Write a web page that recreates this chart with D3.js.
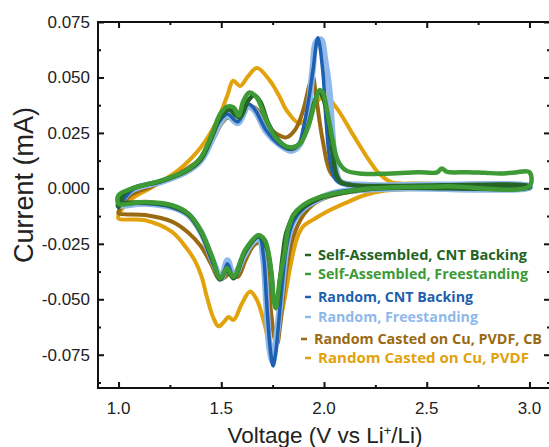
<!DOCTYPE html>
<html lang="en">
<head>
    <meta charset="utf-8">
    <title>Cyclic voltammetry</title>
    <script src="https://cdn.jsdelivr.net/npm/d3@7" charset="utf-8"></script>
    <style>
        body { margin: 0; background: #fff; }
        svg { display: block; }
        .tick-label { font-family: "Liberation Sans", Arial, sans-serif; font-size: 17px; fill: #222; }
        .axis-title { font-family: "Liberation Sans", Arial, sans-serif; fill: #222; }
        .legend text { font-family: "Open Sans", sans-serif; font-weight: 700; }
    </style>
</head>

<body>

<div id="chart"></div>

<script type="text/javascript">
// [voltage, current]: anodic sweep 1.0 -> 3.0, then cathodic 3.0 -> 1.0
var castPvdf = [
    [1.00,-0.0120],[1.06,-0.0050],[1.16,0.0004],[1.29,0.0081],[1.40,0.0184],[1.48,0.0305],[1.53,0.0420],
    [1.558,0.0485],[1.592,0.0462],[1.63,0.0505],[1.674,0.0543],[1.737,0.0485],[1.78,0.0420],[1.819,0.0350],
    [1.882,0.0292],[1.930,0.0337],[1.970,0.0395],[2.002,0.0417],[2.060,0.0364],[2.138,0.0247],[2.220,0.0126],
    [2.268,0.0067],[2.331,0.0027],[2.461,0.0022],[2.70,0.0017],[3.00,0.0013],
    [3.00,0.0004],[2.60,0.0000],[2.30,-0.0010],[2.20,-0.0030],[2.10,-0.0068],[2.00,-0.0112],[1.95,-0.0140],
    [1.90,-0.0170],[1.875,-0.0210],[1.857,-0.0263],[1.833,-0.0368],[1.81,-0.0488],[1.785,-0.0610],[1.761,-0.0705],
    [1.743,-0.0735],[1.713,-0.0620],[1.672,-0.0500],[1.640,-0.0465],[1.60,-0.0520],[1.56,-0.0593],[1.535,-0.0580],
    [1.515,-0.0600],[1.487,-0.0622],[1.46,-0.0580],[1.43,-0.0490],[1.405,-0.0400],[1.374,-0.0330],[1.326,-0.0263],
    [1.26,-0.0196],[1.13,-0.0144],[1.00,-0.0136]
];

var castPvdfCb = [
    [1.00,-0.0105],[1.06,-0.0030],[1.16,0.0008],[1.29,0.0065],[1.40,0.0135],[1.46,0.0220],[1.50,0.0290],
    [1.535,0.0320],[1.58,0.0300],[1.63,0.0370],[1.67,0.0360],[1.72,0.0290],[1.77,0.0245],[1.817,0.0230],
    [1.86,0.0265],[1.898,0.0350],[1.93,0.0470],[1.945,0.0505],[1.962,0.0410],[1.994,0.0215],[2.035,0.0066],
    [2.10,0.0025],[2.30,0.0015],[3.00,0.0012],
    [3.00,0.0004],[2.40,-0.0002],[2.20,-0.0010],[2.10,-0.0020],[2.00,-0.0045],[1.95,-0.0070],[1.90,-0.0120],
    [1.85,-0.0220],[1.82,-0.0350],[1.80,-0.0500],[1.785,-0.0630],[1.772,-0.0700],[1.76,-0.0680],[1.745,-0.0580],
    [1.73,-0.0450],[1.71,-0.0300],[1.69,-0.0245],[1.66,-0.0255],[1.62,-0.0320],[1.58,-0.0400],[1.55,-0.0370],
    [1.52,-0.0400],[1.49,-0.0410],[1.45,-0.0340],[1.40,-0.0260],[1.34,-0.0200],[1.26,-0.0150],[1.13,-0.0120],
    [1.00,-0.0113]
];

var randomFree = [
    [1.00,-0.0075],[1.07,-0.0005],[1.21,0.0030],[1.33,0.0075],[1.40,0.0125],[1.45,0.0210],[1.49,0.0290],
    [1.53,0.0330],[1.58,0.0295],[1.63,0.0370],[1.66,0.0355],[1.72,0.0255],[1.78,0.0200],[1.84,0.0170],
    [1.88,0.0195],[1.92,0.0330],[1.945,0.0540],[1.962,0.0660],[1.985,0.0670],[2.005,0.0580],[2.025,0.0450],
    [2.04,0.0250],[2.055,0.0100],[2.08,0.0030],[2.20,0.0015],[3.00,0.0010],
    [3.00,0.0003],[2.40,0.0000],[2.20,-0.0005],[2.05,-0.0020],[1.97,-0.0050],[1.90,-0.0090],[1.85,-0.0150],
    [1.82,-0.0250],[1.80,-0.0400],[1.78,-0.0580],[1.765,-0.0700],[1.75,-0.0780],[1.735,-0.0720],[1.72,-0.0520],
    [1.705,-0.0320],[1.685,-0.0225],[1.65,-0.0245],[1.61,-0.0305],[1.56,-0.0395],[1.53,-0.0325],[1.50,-0.0405],
    [1.46,-0.0330],[1.40,-0.0195],[1.34,-0.0120],[1.26,-0.0085],[1.13,-0.0068],[1.00,-0.0078]
];

var randomCnt = [
    [1.00,-0.0080],[1.07,-0.0005],[1.21,0.0032],[1.33,0.0078],[1.40,0.0130],[1.45,0.0220],[1.49,0.0300],
    [1.53,0.0335],[1.58,0.0300],[1.63,0.0380],[1.66,0.0360],[1.72,0.0260],[1.78,0.0200],[1.84,0.0175],
    [1.88,0.0200],[1.897,0.0260],[1.922,0.0380],[1.946,0.0530],[1.970,0.0679],[1.994,0.0530],[2.01,0.0305],
    [2.03,0.0120],[2.059,0.0036],[2.12,0.0015],[3.00,0.0009],
    [3.00,0.0004],[2.40,0.0001],[2.20,-0.0003],[2.05,-0.0020],[1.97,-0.0050],[1.90,-0.0090],[1.85,-0.0150],
    [1.82,-0.0250],[1.80,-0.0400],[1.78,-0.0600],[1.765,-0.0740],[1.752,-0.0800],[1.738,-0.0720],[1.72,-0.0500],
    [1.705,-0.0300],[1.685,-0.0220],[1.65,-0.0240],[1.61,-0.0300],[1.56,-0.0400],[1.53,-0.0340],[1.50,-0.0410],
    [1.46,-0.0340],[1.40,-0.0200],[1.34,-0.0120],[1.26,-0.0085],[1.13,-0.0068],[1.00,-0.0075]
];

var saCnt = [
    [1.00,-0.0085],[1.02,-0.0030],[1.068,0.0000],[1.21,0.0034],[1.33,0.0078],[1.40,0.0130],[1.455,0.0235],
    [1.495,0.0320],[1.535,0.0355],[1.59,0.0320],[1.63,0.0395],[1.66,0.0420],[1.69,0.0390],[1.73,0.0290],
    [1.785,0.0210],[1.833,0.0180],[1.88,0.0200],[1.922,0.0280],[1.954,0.0390],[1.975,0.0435],[1.99,0.0420],
    [2.015,0.0340],[2.035,0.0215],[2.059,0.0066],[2.083,0.0028],[2.156,0.0013],[3.00,0.0010],
    [3.00,0.0004],[2.40,0.0003],[2.22,-0.0003],[2.09,-0.0020],[1.978,-0.0045],[1.897,-0.0085],[1.85,-0.0130],
    [1.817,-0.0200],[1.80,-0.0300],[1.785,-0.0420],[1.77,-0.0520],[1.758,-0.0510],[1.745,-0.0400],[1.725,-0.0280],
    [1.70,-0.0225],[1.68,-0.0215],[1.616,-0.0285],[1.56,-0.0405],[1.527,-0.0365],[1.495,-0.0410],[1.455,-0.0315],
    [1.40,-0.0195],[1.34,-0.0118],[1.26,-0.0080],[1.13,-0.0064],[1.00,-0.0072]
];

var saFree = [
    [1.00,-0.0031],[1.068,0.0000],[1.21,0.0036],[1.33,0.0081],[1.40,0.0139],[1.455,0.0245],[1.495,0.0336],
    [1.527,0.0368],[1.56,0.0365],[1.584,0.0328],[1.608,0.0395],[1.637,0.0432],[1.672,0.0410],[1.72,0.0305],
    [1.769,0.0225],[1.833,0.0185],[1.882,0.0200],[1.922,0.0275],[1.954,0.0380],[1.978,0.0443],[1.994,0.0432],
    [2.018,0.0335],[2.043,0.0215],[2.067,0.0126],[2.107,0.0081],[2.187,0.0066],[2.30,0.0066],[2.40,0.0070],
    [2.461,0.0073],[2.55,0.0072],[2.573,0.0090],[2.60,0.0074],[2.70,0.0073],[2.78,0.0070],[2.86,0.0067],
    [2.93,0.0072],[3.00,0.0073],
    [3.00,0.0010],[2.60,0.0009],[2.38,0.0006],[2.22,-0.0001],[2.09,-0.0017],[1.978,-0.0039],[1.897,-0.0076],
    [1.85,-0.0120],[1.824,-0.0190],[1.81,-0.0280],[1.785,-0.0410],[1.765,-0.0540],[1.755,-0.0500],[1.743,-0.0370],
    [1.712,-0.0233],[1.68,-0.0211],[1.616,-0.0278],[1.56,-0.0398],[1.527,-0.0360],[1.495,-0.0405],[1.455,-0.0308],
    [1.40,-0.0189],[1.34,-0.0114],[1.26,-0.0076],[1.13,-0.0061],[1.00,-0.0069]
];

var legendNames = [
    "Self-Assembled, CNT Backing",
    "Self-Assembled, Freestanding",
    "Random, CNT Backing",
    "Random, Freestanding",
    "Random Casted on Cu, PVDF, CB",
    "Random Casted on Cu, PVDF"
];
var xTicks = [1.0, 1.5, 2.0, 2.5, 3.0];
var xMinorTicks = [1.25, 1.75, 2.25, 2.75];
var yTicks = [-0.075, -0.050, -0.025, 0.000, 0.025, 0.050, 0.075];
var yMinorTicks = [-0.0875, -0.0625, -0.0375, -0.0125, 0.0125, 0.0375, 0.0625];
</script>

<script type="text/javascript">
var width = 549, height = 447;
var plotLeft = 98, plotRight = 550, plotTop = 22, plotBottom = 388;

var series = [
    {name: legendNames[5], data: castPvdf,   color: "#e2a20c", w: 4},
    {name: legendNames[4], data: castPvdfCb, color: "#9a6a12", w: 4},
    {name: legendNames[3], data: randomFree, color: "#8fb9ea", w: 6.5},
    {name: legendNames[2], data: randomCnt,  color: "#1f5fb0", w: 3.5},
    {name: legendNames[0], data: saCnt,      color: "#246424", w: 4.5},
    {name: legendNames[1], data: saFree,     color: "#3d9a35", w: 4.5}
];

var legendColors = {};
series.forEach(function(s) { legendColors[s.name] = s.color; });

var x = d3.scaleLinear().domain([0.9, 3.1]).range([plotLeft, plotRight]);
var y = d3.scaleLinear().domain([-0.09, 0.075]).range([plotBottom, plotTop]);

var svg = d3.select("#chart").append("svg")
    .attr("width", width)
    .attr("height", height);

svg.append("rect").attr("width", width).attr("height", height).attr("fill", "#fff");

var line = d3.line()
    .x(function(d) { return x(d[0]); })
    .y(function(d) { return y(d[1]); })
    .curve(d3.curveCatmullRomClosed.alpha(0.5));

svg.append("g")
    .selectAll("path")
    .data(series)
    .enter().append("path")
    .attr("d", function(d) { return line(d.data); })
    .attr("fill", "none")
    .attr("stroke", function(d) { return d.color; })
    .attr("stroke-width", function(d) { return d.w; })
    .attr("stroke-linejoin", "round")
    .attr("stroke-linecap", "round");

// axes: ticks point inward on all four sides
function axisSet(axis, ticks, size) {
    return axis.tickValues(ticks).tickSize(size).tickFormat("");
}

var gx = svg.append("g").attr("transform", "translate(0," + plotBottom + ")");
gx.call(axisSet(d3.axisTop(x), xTicks, 6));
gx.append("g").call(axisSet(d3.axisTop(x), xMinorTicks, 3));

var gxt = svg.append("g").attr("transform", "translate(0," + plotTop + ")");
gxt.call(axisSet(d3.axisBottom(x), xTicks, 6));
gxt.append("g").call(axisSet(d3.axisBottom(x), xMinorTicks, 3));

var gy = svg.append("g").attr("transform", "translate(" + plotLeft + ",0)");
gy.call(axisSet(d3.axisRight(y), yTicks, 6));
gy.append("g").call(axisSet(d3.axisRight(y), yMinorTicks, 3));

var gyr = svg.append("g").attr("transform", "translate(" + plotRight + ",0)");
gyr.call(axisSet(d3.axisLeft(y), yTicks, 6));
gyr.append("g").call(axisSet(d3.axisLeft(y), yMinorTicks, 3));

svg.selectAll(".domain").remove();
svg.selectAll(".tick line").attr("stroke", "#111").attr("stroke-width", 2);

// frame; the right spine sits just past the picture edge
svg.append("rect")
    .attr("x", plotLeft).attr("y", plotTop)
    .attr("width", plotRight - plotLeft + 2).attr("height", plotBottom - plotTop)
    .attr("fill", "none")
    .attr("stroke", "#111")
    .attr("stroke-width", 2);

// tick labels
svg.append("g").selectAll("text")
    .data(xTicks)
    .enter().append("text")
    .attr("class", "tick-label")
    .attr("x", function(d) { return x(d); })
    .attr("y", 414)
    .attr("text-anchor", "middle")
    .text(function(d) { return d.toFixed(1); });

svg.append("g").selectAll("text")
    .data(yTicks)
    .enter().append("text")
    .attr("class", "tick-label")
    .attr("x", 90)
    .attr("y", function(d) { return y(d) + 6; })
    .attr("text-anchor", "end")
    .text(function(d) { return (d < 0 ? "-" : "") + Math.abs(d).toFixed(3); });

// axis titles
var xt = svg.append("text")
    .attr("class", "axis-title")
    .attr("x", 325)
    .attr("y", 443)
    .attr("text-anchor", "middle")
    .style("font-size", "22.5px");
xt.append("tspan").text("Voltage (V vs Li");
xt.append("tspan").attr("dy", -8).style("font-size", "13px").text("+");
xt.append("tspan").attr("dy", 8).text("/Li)");

svg.append("text")
    .attr("class", "axis-title")
    .attr("transform", "translate(33,185) rotate(-90)")
    .attr("text-anchor", "middle")
    .style("font-size", "27px")
    .text("Current (mA)");

// legend (the original uses a narrow bold face, so each entry is fitted to its width)
var legendY = [255, 274, 297, 317, 339, 358];
var legendDx = [0, 0, 0, 0, -4, 0];
var legendW = [209, 210, 155, 160, 228, 211];
var legendSize = [15, 15, 15, 15, 13.5, 15];

var lg = svg.append("g").attr("class", "legend")
    .selectAll("g")
    .data(legendNames)
    .enter().append("g")
    .attr("transform", function(d, i) { return "translate(" + (305 + legendDx[i]) + "," + legendY[i] + ")"; });

lg.append("line")
    .attr("x1", 0).attr("x2", 6)
    .attr("y1", 0).attr("y2", 0)
    .attr("stroke", function(d) { return legendColors[d]; })
    .attr("stroke-width", 2.5);

lg.append("text")
    .attr("x", 13)
    .attr("y", 5)
    .attr("fill", function(d) { return legendColors[d]; })
    .style("font-size", function(d, i) { return legendSize[i] + "px"; })
    .attr("textLength", function(d, i) { return legendW[i]; })
    .attr("lengthAdjust", "spacingAndGlyphs")
    .text(function(d) { return d; });
</script>

</body>

</html>
